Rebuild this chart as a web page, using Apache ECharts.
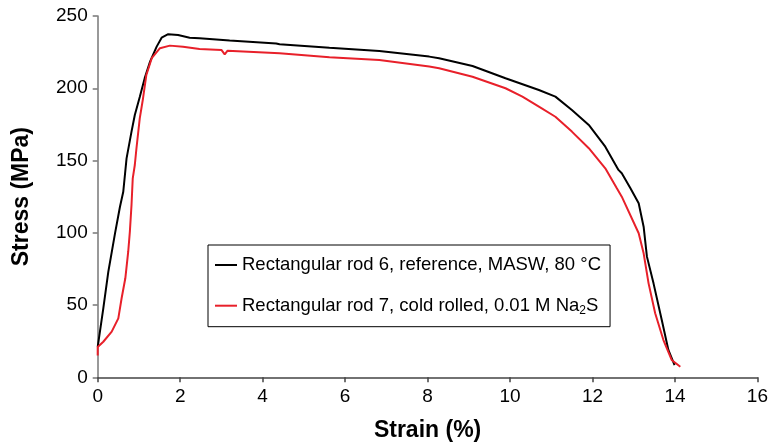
<!DOCTYPE html>
<html>
<head>
<meta charset="utf-8">
<script src="https://cdn.jsdelivr.net/npm/echarts@6/dist/echarts.min.js"></script>
<style>html,body{margin:0;padding:0;background:#fff}#c{width:771px;height:448px}</style>
</head>
<body>
<div id="c"></div>
<script>
var strainBlack = [0,0.136,0.257,0.42,0.54,0.62,0.70,0.82,0.90,1.02,1.14,1.27,1.43,1.55,1.71,1.95,2.23,2.47,3.2,4.33,4.41,5.62,6.83,8.04,8.28,9.09,9.89,10.7,11.1,11.5,11.91,12.31,12.63,12.71,12.92,13.12,13.24,13.32,13.48,13.68,13.84,13.99];
var stressBlack = [21,47.7,73,99.6,118,128.4,151.5,170,181.5,194,207,218.4,228.8,235,237.4,236.9,235,234.6,233,231,230.4,228,225.8,221.9,220.7,215.4,206.9,198.8,194.2,185,174.6,159.6,143.5,141.2,130.8,120.4,104.2,83.5,65,39.7,18.9,8.5];
var strainRed = [0,0,0.136,0.34,0.50,0.58,0.67,0.74,0.78,0.82,0.85,0.90,0.94,1.02,1.10,1.18,1.31,1.51,1.75,2.07,2.47,3.0,3.08,3.15,4.41,5.62,6.83,8.04,8.28,9.09,9.89,10.3,10.7,11.1,11.5,11.91,12.31,12.59,12.71,13.12,13.24,13.36,13.52,13.72,13.92,14.13];
var stressRed = [15,21,24.6,31.6,40.8,54.7,68.5,86.9,100.8,119.2,137.7,146.9,158.5,179.2,193.1,209.2,220.8,227.7,229.5,228.8,227.2,226.5,223.5,226,224.2,221.4,219.6,215,213.8,208,200,194.2,187.3,180.3,170,158.5,144.6,130.8,125,99.7,85.8,65,44.3,25.8,12,7.3];
var seriesNames = ['Rectangular rod 6, reference, MASW, 80 °C', 'Rectangular rod 7, cold rolled, 0.01 M Na2S'];
var xTicks = {min: 0, max: 16, interval: 2};
var yTicks = {min: 0, max: 250, interval: 50};

function pairs(xs, ys) { return xs.map(function (x, i) { return [x, ys[i]]; }); }

var chart = echarts.init(document.getElementById('c'), null, {renderer: 'canvas'});
var font = 'Liberation Sans, Arial, sans-serif';
chart.setOption({
  animation: false,
  backgroundColor: '#fff',
  grid: {left: 97.7, right: 12, top: 16, bottom: 70.7, containLabel: false},
  legend: {
    orient: 'vertical',
    left: 208, top: 245,
    padding: [9, 9, 10, 7],
    borderColor: '#000', borderWidth: 1,
    icon: 'rect',
    itemWidth: 22, itemHeight: 2, itemGap: 18.7,
    data: seriesNames,
    formatter: function (name) {
      if (name.indexOf('Na2S') >= 0) {
        return '{a|' + name.replace('Na2S', 'Na') + '}{sub|2}{a|S}';
      }
      return '{a|' + name + '}';
    },
    textStyle: {
      color: '#000', fontFamily: font, fontSize: 18.5, lineHeight: 22,
      rich: {
        a: {fontFamily: font, fontSize: 18.5, lineHeight: 22, color: '#000'},
        sub: {fontFamily: font, fontSize: 12, lineHeight: 12, verticalAlign: 'bottom', color: '#000'}
      }
    }
  },
  xAxis: {
    type: 'value', min: xTicks.min, max: xTicks.max, interval: xTicks.interval,
    name: 'Strain (%)', nameLocation: 'middle', nameGap: 42,
    nameTextStyle: {fontFamily: font, fontSize: 23, fontWeight: 'bold', color: '#000'},
    axisLine: {lineStyle: {color: '#444', width: 1.5}},
    axisTick: {show: true, length: 5, lineStyle: {color: '#444', width: 1.5}},
    axisLabel: {fontFamily: font, fontSize: 19, color: '#000', margin: 10},
    splitLine: {show: false}
  },
  yAxis: {
    type: 'value', min: yTicks.min, max: yTicks.max, interval: yTicks.interval,
    name: 'Stress (MPa)', nameLocation: 'middle', nameGap: 65,
    nameTextStyle: {fontFamily: font, fontSize: 23, fontWeight: 'bold', color: '#000'},
    axisLine: {show: true, lineStyle: {color: '#777', width: 1.5}},
    axisTick: {show: true, length: 5, lineStyle: {color: '#777', width: 1.5}},
    axisLabel: {fontFamily: font, fontSize: 19, color: '#000', margin: 10},
    splitLine: {show: false}
  },
  series: [
    {name: seriesNames[0], type: 'line', showSymbol: false, symbol: 'none',
     data: pairs(strainBlack, stressBlack), lineStyle: {color: '#000', width: 2}, itemStyle: {color: '#000'}},
    {name: seriesNames[1], type: 'line', showSymbol: false, symbol: 'none',
     data: pairs(strainRed, stressRed), lineStyle: {color: '#e8202a', width: 2}, itemStyle: {color: '#e8202a'}}
  ]
});
</script>
</body>
</html>
